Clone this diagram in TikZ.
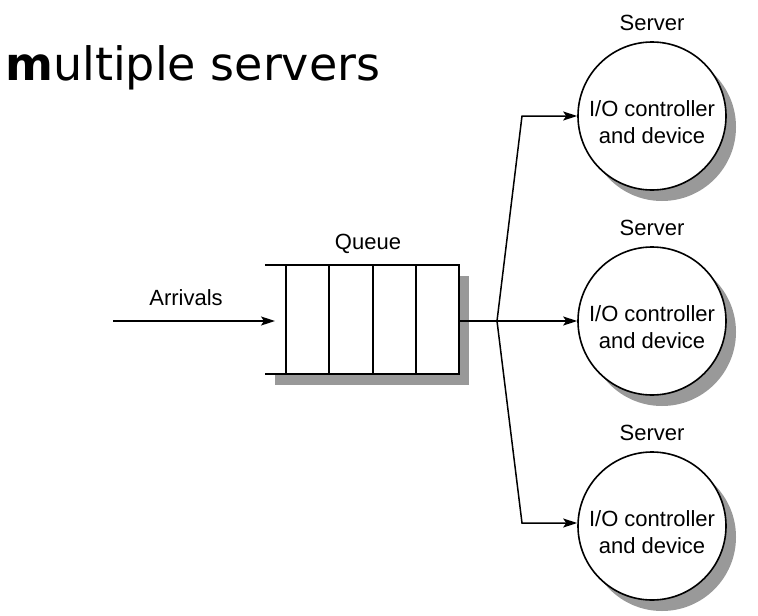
\documentclass[tikz,border=0pt]{standalone}
\usepackage{fontspec}
\setmainfont{Liberation Sans}
\newfontfamily\titlefont{DejaVu Sans}
\usetikzlibrary{arrows.meta,shadows}
\definecolor{shade}{HTML}{999999}
\begin{document}
\begin{tikzpicture}[x=1pt,y=-1pt,
  lbl/.style={font=\fontsize{22}{27}\selectfont, inner sep=0pt},
  ln/.style={line width=1.5pt},
  arr/.style={ln, -{Stealth[length=14pt,width=9pt,inset=3pt]}},
  srv/.style={circle, draw, line width=1.6pt, fill=white, minimum size=148pt, inner sep=0pt,
    drop shadow={shadow xshift=10pt, shadow yshift=-11pt, fill=shade, opacity=1},
    label={[lbl, align=center, yshift=-6pt]center:I/O controller\\and device}},
  queuebox/.style={rectangle, fill=white, minimum width=194pt, minimum height=109pt, inner sep=0pt,
    drop shadow={shadow xshift=10pt, shadow yshift=-11pt, fill=shade, opacity=1}}
]
\useasboundingbox (0,0) rectangle (758,616);
% title
\node[anchor=base west, inner sep=0pt, font=\titlefont\fontsize{46}{50}\selectfont] (title) at (5,80) {\textbf{m}ultiple servers};
% queue
\node[queuebox] (q) at (362,319.5) {};
\draw[line width=1.8pt] (q.north west) -- (q.north east) -- (q.south east) -- (q.south west);
\foreach \xx in {286,329,373,416} {
  \draw[line width=1.8pt] (\xx,265) -- (\xx,374);
}
\node[lbl, anchor=base] (qlbl) at (368,249) {Queue};
% arrivals
\coordinate (a0) at (113,321);
\coordinate (a1) at (275,321);
\draw[arr] (a0) -- (a1);
\node[lbl, anchor=base] (albl) at (186,305) {Arrivals};
% servers
\node[srv] (s1) at (652,116) {};
\node[srv] (s2) at (652,321) {};
\node[srv] (s3) at (652,526) {};
\foreach \s in {s1,s2,s3} {
  \node[lbl, anchor=base] at ([yshift=11pt]\s.north) {Server};
}
% connectors
\coordinate (br) at (497,321);
\coordinate (b1) at (522,116);
\coordinate (b3) at (522,523);
\draw[ln] (q.east |- br) -- (br);
\draw[arr] (br) -- (b1) -- (s1.west |- b1);
\draw[arr] (br) -- (s2.west);
\draw[arr] (br) -- (b3) -- (s3.west |- b3);
\end{tikzpicture}
\end{document}
